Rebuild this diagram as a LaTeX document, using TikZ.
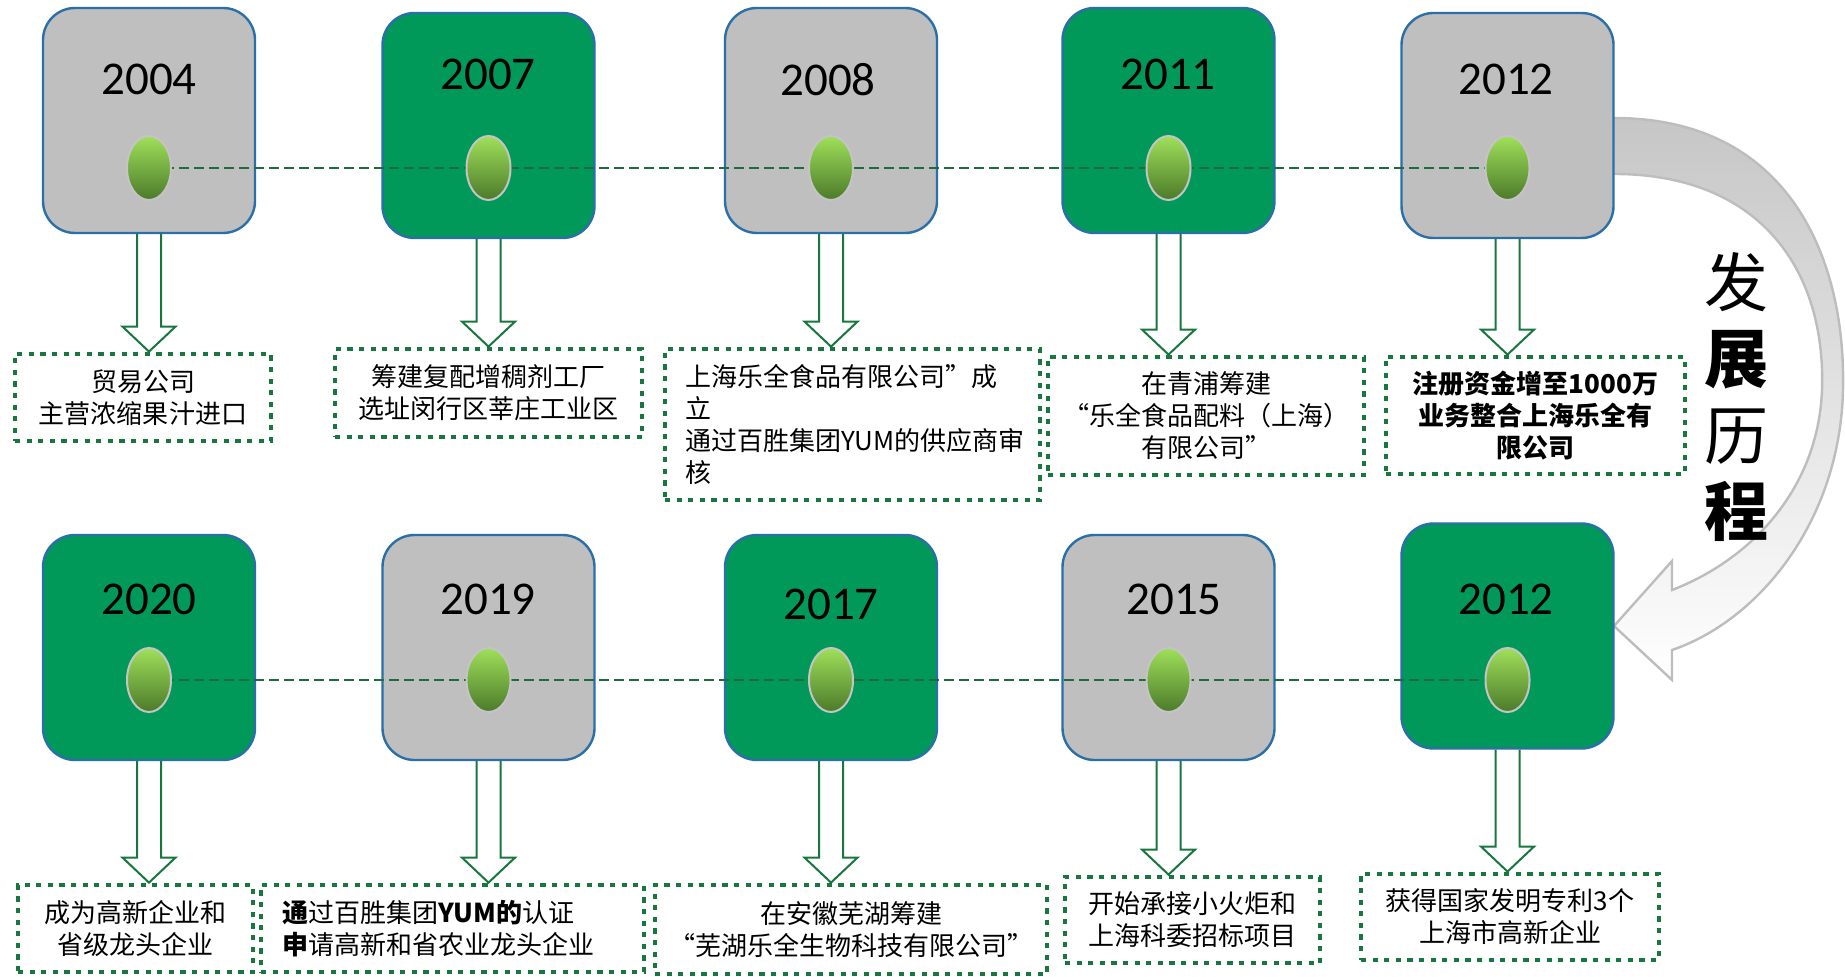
\documentclass[tikz,border=0pt]{standalone}
\usepackage{fontspec}
\setmainfont{Carlito}
\newfontfamily\cjk{Noto Sans CJK SC}
\usetikzlibrary{shapes.geometric, calc}

\definecolor{boxgreen}{HTML}{00995A}
\definecolor{boxgray}{HTML}{BFBFBF}
\definecolor{boxblue}{HTML}{2A6FA8}
\definecolor{dotlight}{HTML}{9FE05A}
\definecolor{dotdark}{HTML}{4C7A2A}
\definecolor{dotrim}{HTML}{C4C4C4}
\definecolor{linegreen}{HTML}{1F6B3E}
\definecolor{notegreen}{HTML}{17773F}
\definecolor{arcgray}{HTML}{C6C6C6}
\definecolor{arcline}{HTML}{BDBDBD}

\pgfdeclarelayer{back}
\pgfdeclarelayer{boxes}
\pgfdeclarelayer{lines}
\pgfsetlayers{back,boxes,lines,main}

\tikzset{
    yearbox/.style={draw=boxblue, line width=1.2pt, rounded corners=16pt, minimum width=106pt, minimum height=112.5pt},
    graybox/.style={yearbox, fill=boxgray},
    greenbox/.style={yearbox, fill=boxgreen},
    yeartext/.style={font=\fontsize{23.5}{28}\selectfont, text depth=0pt, inner sep=0pt},
    bead/.style={ellipse, draw=dotrim, line width=1pt, top color=dotlight, bottom color=dotdark, minimum width=22pt, minimum height=32pt, inner sep=0pt},
    timeline/.style={draw=linegreen, line width=1.3pt, dash pattern=on 5pt off 2.5pt},
    notebox/.style={draw=notegreen, line width=2.4pt, dash pattern=on 2.6pt off 3.2pt, font=\cjk\fontsize{13}{16}\selectfont, align=center, inner sep=0pt},
    hollow/.style={draw=notegreen, line width=1pt, fill=white},
    bendarrow/.style={draw=arcline, line width=1.2pt, top color=arcgray, bottom color=white}
}

\newcommand{\hollowarrow}[2]{%
  \begin{pgfonlayer}{back}
  \draw[hollow] let \p1=(#1.south), \p2=(#1.south |- #2.north) in
    (\x1-6pt,\y1) -- (\x1-6pt,\y2+12.5pt) -- (\x1-13.25pt,\y2+12.5pt) -- (\p2)
    -- (\x1+13.25pt,\y2+12.5pt) -- (\x1+6pt,\y2+12.5pt) -- (\x1+6pt,\y1);
  \end{pgfonlayer}}

\begin{document}
\begin{tikzpicture}[x=0.5pt, y=-0.5pt]
    \useasboundingbox (0,0) rectangle (1845,977);

    % turn-around arrow
    \begin{pgfonlayer}{back}
    \path[bendarrow] (1600,118) -- (1614,118) .. controls (1790,118) and (1846,260) .. (1843,390)
        .. controls (1840,520) and (1760,620) .. (1672,650) -- (1672,680) -- (1614,626) -- (1672,561)
        -- (1672,590) .. controls (1750,560) and (1818,490) .. (1822,390)
        .. controls (1826,270) and (1760,174) .. (1614,174) -- (1600,174) -- cycle;
    \end{pgfonlayer}

    % year boxes
    \begin{pgfonlayer}{boxes}
    \node[graybox] (t1) at (149,120.5) {};
    \node[greenbox] (t2) at (488.5,125.5) {};
    \node[graybox] (t3) at (831,120.5) {};
    \node[greenbox] (t4) at (1168.5,120.5) {};
    \node[graybox] (t5) at (1507.5,125.5) {};
    \node[greenbox] (b1) at (149,647.5) {};
    \node[graybox] (b2) at (488.5,647.5) {};
    \node[greenbox] (b3) at (831,647.5) {};
    \node[graybox] (b4) at (1168.5,647.5) {};
    \node[greenbox] (b5) at (1507.5,636) {};
    \end{pgfonlayer}

    \node[yeartext] (ty1) at (149,79) {2004};
    \node[yeartext] (ty2) at (488,74) {2007};
    \node[yeartext] (ty3) at (828,79) {2008};
    \node[yeartext] (ty4) at (1168,74) {2011};
    \node[yeartext] (ty5) at (1506,79) {2012};
    \node[yeartext] (by1) at (149,599) {2020};
    \node[yeartext] (by2) at (488,599) {2019};
    \node[yeartext] (by3) at (831,604) {2017};
    \node[yeartext] (by4) at (1174,599) {2015};
    \node[yeartext] (by5) at (1506,599) {2012};

    % beads on the time lines
    \foreach \i/\x in {1/149,2/488.5,3/831,4/1168.5,5/1507.5}{
        \node[bead] (td\i) at (\x,168) {};
        \node[bead] (bd\i) at (\x,680) {};
    }
    \begin{pgfonlayer}{lines}
    \draw[timeline] (td1.center) -- (td5.center);
    \draw[timeline] (bd1.center) -- (bd5.center);
    \end{pgfonlayer}

    % events
    \node[notebox, minimum width=128pt, minimum height=43.5pt] (n1) at (143,397.5) {贸易公司\\主营浓缩果汁进口};
    \node[notebox, minimum width=153.5pt, minimum height=44pt] (n2) at (488.5,393) {筹建复配增稠剂工厂\\选址闵行区莘庄工业区};
    \node[notebox, minimum width=187.5pt, minimum height=75.5pt, align=left, text width=167.5pt] (n3) at (852.5,424.5)
        {上海乐全食品有限公司”成\\立\\通过百胜集团YUM的供应商审\\核};
    \node[notebox, minimum width=158pt, minimum height=59pt] (n4) at (1206,416) {在青浦筹建\\“乐全食品配料（上海）\\有限公司”};
    \node[notebox, minimum width=149.5pt, minimum height=58.5pt, font=\cjk\bfseries\fontsize{13}{16}\selectfont] (n5) at (1535.5,415.5)
        {注册资金增至1000万\\业务整合上海乐全有\\限公司};
    \node[notebox, minimum width=117.5pt, minimum height=43.5pt] (m1) at (135.5,928.5) {成为高新企业和\\省级龙头企业};
    \node[notebox, minimum width=191.5pt, minimum height=43.5pt, align=left, text width=170.5pt] (m2) at (452.5,928.5)
        {\textbf{通}过百胜集团\textbf{YUM的}认证\\\textbf{申}请高新和省农业龙头企业};
    \node[notebox, minimum width=196pt, minimum height=44.5pt] (m3) at (851,929.5) {在安徽芜湖筹建\\“芜湖乐全生物科技有限公司”};
    \node[notebox, minimum width=127.5pt, minimum height=43pt] (m4) at (1192.5,920) {开始承接小火炬和\\上海科委招标项目};
    \node[notebox, minimum width=149pt, minimum height=43pt] (m5) at (1510,917) {获得国家发明专利3个\\上海市高新企业};

    \foreach \a/\b in {t1/n1,t2/n2,t3/n3,t4/n4,t5/n5,b1/m1,b2/m2,b3/m3,b4/m4,b5/m5}
        \hollowarrow{\a}{\b};

    \node[font=\cjk\fontsize{32}{38.3}\selectfont, align=center, inner sep=0pt] (title) at (1736,397)
        {发\\\textbf{展}\\历\\\textbf{程}};
\end{tikzpicture}
\end{document}
